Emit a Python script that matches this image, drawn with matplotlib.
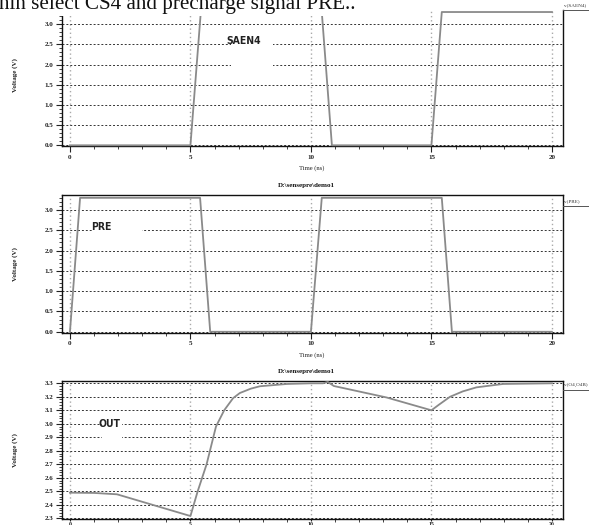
import matplotlib
matplotlib.use("Agg")
import matplotlib.pyplot as plt
from matplotlib.ticker import MultipleLocator, FormatStrFormatter
from matplotlib.patches import Rectangle
from matplotlib.lines import Line2D

# ---- data (time in ns, voltage in V) ----
saen4_t = [0.0, 5.0, 5.43, 10.45, 10.87, 15.0, 15.43, 20.0]
saen4_v = [0.0, 0.0, 3.3, 3.3, 0.0, 0.0, 3.3, 3.3]

pre_t = [0.0, 0.42, 5.40, 5.82, 10.0, 10.45, 15.43, 15.85, 20.0]
pre_v = [0.0, 3.3, 3.3, 0.0, 0.0, 3.3, 3.3, 0.0, 0.0]

out_t = [0.0, 1.0, 1.95, 3.73, 5.0, 5.3, 5.67, 6.06, 6.4, 6.77, 7.05, 7.5, 7.88,
         9.0, 10.0, 10.5, 10.7, 10.95, 13.14, 15.0, 15.3, 15.77, 16.3, 16.87,
         17.97, 20.0]
out_v = [2.49, 2.488, 2.478, 2.384, 2.317, 2.50, 2.70, 2.98, 3.10, 3.19, 3.228,
         3.26, 3.278, 3.295, 3.30, 3.30, 3.31, 3.28, 3.195, 3.10, 3.14, 3.20,
         3.24, 3.27, 3.295, 3.30]

x_ticks = [0, 5, 10, 15, 20]
panel_names = ["SAEN4", "PRE", "OUT"]
legend_labels = ["v(SAEN4)", "v(PRE)", "v(O4,O4B)"]
title_text = "D:\\sensepre\\demo1"
caption = "nin select CS4 and precharge signal PRE.."

W, H = 589, 525
fig = plt.figure(figsize=(W / 100, H / 100), dpi=100)
fig.patch.set_facecolor("white")

serif = ["Liberation Serif", "DejaVu Serif"]


def ax_px(x0, y0, x1, y1):
    return fig.add_axes([x0 / W, 1 - y1 / H, (x1 - x0) / W, (y1 - y0) / H])


def style(ax, ylim, ymajor, yminor, xtick_len=4, xpad=2):
    ax.set_xlim(-0.33, 20.46)
    ax.set_ylim(*ylim)
    ax.xaxis.set_major_locator(MultipleLocator(5))
    ax.xaxis.set_minor_locator(MultipleLocator(1))
    ax.yaxis.set_major_locator(MultipleLocator(ymajor))
    ax.yaxis.set_minor_locator(MultipleLocator(yminor))
    ax.yaxis.set_major_formatter(FormatStrFormatter("%.1f"))
    ax.tick_params(axis="y", which="major", direction="out", length=4,
                   width=0.8, labelsize=5, pad=2, colors="#222222")
    ax.tick_params(axis="x", which="major", direction="out", length=xtick_len,
                   width=0.8, labelsize=5, pad=xpad, colors="#222222")
    ax.tick_params(axis="both", which="minor", direction="out", length=2.5,
                   width=0.6, colors="#222222")
    for lab in ax.get_xticklabels() + ax.get_yticklabels():
        lab.set_family(serif)
        lab.set_fontweight("bold")
    for s in ax.spines.values():
        s.set_color("#111111")
        s.set_linewidth(1.0)
    ax.yaxis.grid(True, which="major", color="#333333",
                  linestyle=(0, (2, 2)), linewidth=0.7)
    ax.xaxis.grid(True, which="major", color="#aaaaaa",
                  linestyle=(0, (1, 2)), linewidth=1.0)
    ax.set_axisbelow(True)


line_kw = dict(color="#8a8a8a", linewidth=1.3, zorder=3, clip_on=False)
lab_kw = dict(fontsize=7.5, fontweight="bold", family="DejaVu Sans",
              fontstretch="condensed", color="#222222",
              zorder=5, ha="center", va="center")

# ---- panel 1 ----
ax1 = ax_px(62, 10, 563, 146.5)
style(ax1, (-0.03, 3.35), 0.5, 0.1)
ax1.spines["top"].set_visible(False)
ax1.plot(saen4_t, saen4_v, **line_kw)
ax1.add_patch(Rectangle((6.68, 1.85), 1.74, 0.8, facecolor="white",
                        edgecolor="none", zorder=2))
ax1.text(7.2, 2.57, panel_names[0], **lab_kw)

# ---- panel 2 ----
ax2 = ax_px(62, 195, 563, 333)
style(ax2, (-0.03, 3.37), 0.5, 0.1)
ax2.plot(pre_t, pre_v, **line_kw)
ax2.add_patch(Rectangle((0.95, 2.35), 2.04, 0.3, facecolor="white",
                        edgecolor="none", zorder=2))
ax2.text(1.3, 2.57, panel_names[1], **lab_kw)

# ---- panel 3 ----
ax3 = ax_px(62, 381, 563, 519)
style(ax3, (2.295, 3.317), 0.1, 0.02, xtick_len=1.5, xpad=0.3)
ax3.plot(out_t, out_v, **line_kw)
ax3.add_patch(Rectangle((1.33, 2.86), 0.83, 0.18, facecolor="white",
                        edgecolor="none", zorder=2))
ax3.text(1.66, 3.0, panel_names[2], **lab_kw)
for lab in ax3.get_xticklabels():
    lab.set_fontsize(4.2)

for yc in [75, 264, 450]:
    fig.text(15 / W, 1 - yc / H, "Voltage (V)", rotation=90, ha="center",
             va="center", fontsize=5, fontweight="bold", family=serif,
             color="#222222")

for yc in [168, 355]:
    fig.text(312 / W, 1 - yc / H, "Time (ns)", ha="center", va="center",
             fontsize=4.8, family=serif, color="#222222")

for yc in [185, 371]:
    fig.text(306 / W, 1 - yc / H, title_text, ha="center", va="center",
             fontsize=5, fontweight="bold", family=serif, color="#111111")

# right-side signal labels with underline
for lab, yc in zip(legend_labels, [5, 201, 385]):
    fig.text(564.5 / W, 1 - yc / H, lab, ha="left", va="center", fontsize=3.7,
             family=serif, color="#333333")
    fig.add_artist(Line2D([563 / W, 589 / W], [1 - (yc + 5) / H] * 2,
                          color="#555555", linewidth=0.7,
                          transform=fig.transFigure))

# cropped caption at top (covers the top of panel 1)
fig.text(-1 / W, 1 - 9.5 / H, caption, ha="left", va="baseline",
         fontsize=15.2, family=serif, color="#111111", zorder=10,
         bbox=dict(facecolor="white", edgecolor="none", pad=1))

fig.savefig("out.png", dpi=100, facecolor="white")
